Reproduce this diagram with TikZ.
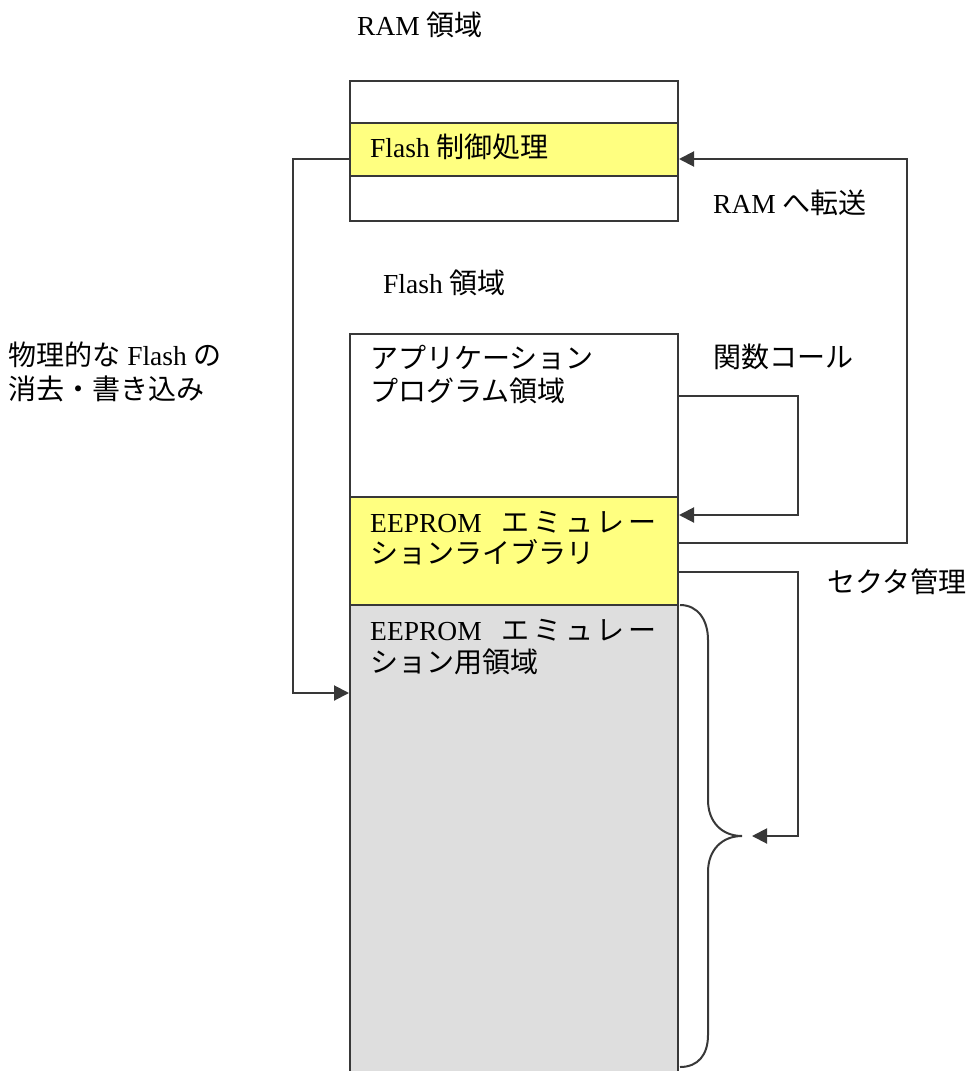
\documentclass[tikz,border=0pt]{standalone}
\usepackage{fontspec}
\setmainfont{Liberation Serif}
\newfontfamily\jp[Scale=1.02]{Noto Sans CJK JP}
\usetikzlibrary{arrows.meta}
\definecolor{linec}{HTML}{383838}
\definecolor{ylw}{HTML}{FFFF80}
\definecolor{gry}{HTML}{DEDEDE}
\newcommand\fsz{\fontsize{27.5}{32}\selectfont}
\newcommand\gp{\hspace{3.6pt}}
\begin{document}
\begin{tikzpicture}[x=1pt,y=-1pt,
  box/.style={draw=linec, line width=2pt, inner sep=0, anchor=north west, minimum width=328pt},
  conn/.style={draw=linec, line width=2pt, -{Triangle[length=15pt,width=15pt]}},
  txt/.style={anchor=base west, inner sep=0, font=\fsz}]
\useasboundingbox (0,0) rectangle (967,1071);
% boxes
\node[box, fill=white, minimum height=140pt] (ram) at (349,80) {};
\node[box, fill=ylw, minimum height=53pt] (ctrl) at (349,122) {};
\node[box, fill=white, minimum height=163pt] (app) at (349,333) {};
\node[box, fill=ylw, minimum height=108pt] (lib) at (349,496) {};
\node[box, fill=gry, minimum height=472pt] (emu) at (349,604) {};
% texts
\node[txt] (tram) at (357,35) {RAM {\jp 領域}};
\node[txt] (tctrl) at (370,157) {Flash {\jp 制御処理}};
\node[txt] (tflash) at (383,293) {Flash {\jp 領域}};
\node[txt] (ttrans) at (713,213) {RAM {\jp へ転送}};
\node[txt] (tcall) at (713,367) {\jp 関数コール};
\node[txt] (tphys1) at (8,365) {{\jp 物理的な} Flash {\jp の}};
\node[txt] (tphys2) at (8,399) {\jp 消去・書き込み};
\node[txt] (tapp1) at (370,368) {\jp アプリケーション};
\node[txt] (tapp2) at (370,401) {\jp プログラム領域};
\node[txt] (tlib1) at (370,532) {EEPROM\hspace{20pt}{\jp エ\gp ミ\gp ュ\gp レ\gp ー}};
\node[txt] (tlib2) at (370,563) {\jp ションライブラリ};
\node[txt] (temu1) at (370,640) {EEPROM\hspace{20pt}{\jp エ\gp ミ\gp ュ\gp レ\gp ー}};
\node[txt] (temu2) at (370,672) {\jp ション用領域};
\node[txt] (tsect) at (827,592) {\jp セクタ管理};
% routing coordinates
\coordinate (fl1) at (293,159);
\coordinate (fl2) at (293,693);
\coordinate (rt1) at (907,543);
\coordinate (rt2) at (907,159);
\coordinate (fc1) at (798,396);
\coordinate (fc2) at (798,515);
\coordinate (sc1) at (798,572);
\coordinate (sc2) at (798,836);
\coordinate (bt) at (752,836);
% connectors
\draw[conn] (ctrl.west |- fl1) -- (fl1) -- (fl2) -- (emu.west |- fl2);
\draw[conn] (lib.east |- rt1) -- (rt1) -- (rt2) -- (ctrl.east |- rt2);
\draw[conn] (app.east |- fc1) -- (fc1) -- (fc2) -- (lib.east |- fc2);
\draw[conn] (lib.east |- sc1) -- (sc1) -- (sc2) -- (bt);
% brace
\draw[draw=linec, line width=2pt] (680,605) .. controls (698,605) and (708,620) .. (708,640) -- (708,800) .. controls (708,822) and (722,836) .. (742,836) .. controls (722,836) and (708,850) .. (708,872) -- (708,1035) .. controls (708,1055) and (698,1067) .. (680,1067);
\end{tikzpicture}
\end{document}
